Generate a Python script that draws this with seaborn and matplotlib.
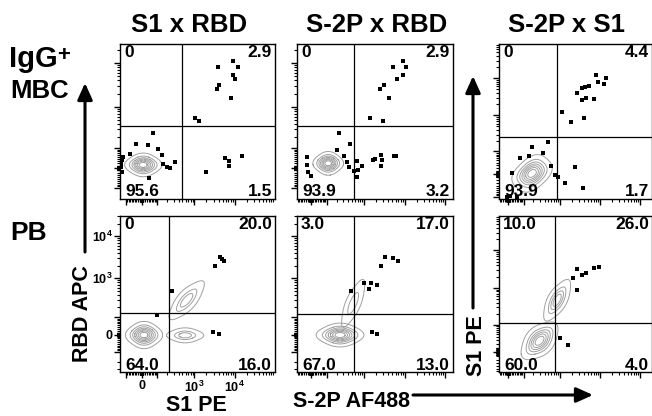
import numpy as np
import matplotlib
matplotlib.use("Agg")
import matplotlib.pyplot as plt
from matplotlib.patches import FancyArrowPatch
import seaborn as sns

# ---- data (display channel units, 0-100 on both axes) ----
col_titles = ["S1 x RBD", "S-2P x RBD", "S-2P x S1"]

# quadrant frequencies: UL, UR, LL, LR
quad_mbc = [["0", "2.9", "95.6", "1.5"], ["0", "2.9", "93.9", "3.2"], ["0", "4.4", "93.9", "1.7"]]
quad_pb = [["0", "20.0", "64.0", "16.0"], ["3.0", "17.0", "67.0", "13.0"], ["10.0", "26.0", "60.0", "4.0"]]

gate_x_mbc = [40.0, 36.5, 37.9]
gate_y_mbc = [47.1, 47.1, 40.0]
gate_x_pb = [31.6, 36.5, 36.6]
gate_y_pb = [37.8, 37.2, 31.4]

# single events drawn as dots
mbc_s1_rbd_x = [63.2, 72.9, 76.1, 72.9, 74.2, 63.9, 62.6, 71.6, 48.4, 51.0, 67.7, 70.3, 78.7, 70.3, 55.5,
                21.3, 10.3, 18.1, 24.5, 27.1, 35.5, 27.7, 30.3, 32.3, 6.5, 0.5, 1.3, 18.7, 1.0, 2.0, 0.8]
mbc_s1_rbd_y = [85.2, 89.0, 85.2, 80.0, 77.4, 73.5, 71.0, 65.2, 52.3, 50.3, 26.5, 24.5, 27.7, 21.3, 17.4,
                42.6, 35.5, 34.8, 32.3, 28.4, 23.9, 22.6, 20.6, 20.0, 29.0, 20.6, 17.4, 13.5, 25.0, 27.0, 23.0]
mbc_s2p_rbd_x = [67.9, 61.5, 69.9, 64.1, 67.9, 53.2, 55.8, 59.0, 46.8, 55.1, 48.7, 50.0, 53.8, 54.5, 53.8, 62.2,
                 63.5, 26.9, 34.0, 25.6, 30.1, 32.0, 33.3, 38.5, 39.1, 36.5, 38.5, 41.7, 6.4, 6.4, 7.1, 9.0]
mbc_s2p_rbd_y = [89.0, 85.2, 85.2, 77.4, 80.0, 71.0, 73.5, 65.2, 52.3, 50.3, 25.2, 25.8, 28.4, 25.2, 21.3, 27.7,
                 27.7, 42.6, 35.5, 31.6, 27.7, 23.9, 20.6, 24.5, 18.7, 18.1, 14.2, 21.3, 27.1, 21.9, 17.4, 14.8]
mbc_s2p_s1_x = [63.4, 69.9, 64.7, 68.6, 58.8, 56.2, 54.2, 51.0, 54.2, 56.9, 62.1, 55.6, 47.1, 41.2, 32.0,
                21.6, 28.8, 13.7, 19.6, 34.0, 38.6, 36.6, 43.1, 49.7, 54.9, 8.5, 5.2, 11.8, 7.0]
mbc_s2p_s1_y = [80.0, 78.1, 75.5, 74.2, 72.9, 72.3, 71.6, 68.4, 63.9, 65.2, 64.5, 52.3, 49.7, 56.1, 36.8,
                33.5, 29.7, 26.5, 27.7, 21.3, 14.2, 15.5, 10.3, 20.6, 7.1, 16.8, 1.5, 1.0, 2.0]
pb_s1_rbd_x = [61.3, 64.5, 65.8, 67.1, 33.5, 23.9, 60.0, 63.9]
pb_s1_rbd_y = [67.9, 73.7, 72.4, 71.2, 51.9, 36.5, 25.6, 24.4]
pb_s2p_rbd_x = [53.8, 56.4, 61.5, 64.7, 42.9, 46.2, 47.4, 51.3, 34.6, 48.1, 51.3]
pb_s2p_rbd_y = [67.9, 73.7, 73.1, 71.2, 57.1, 53.2, 57.1, 55.8, 51.9, 25.6, 24.4]
pb_s2p_s1_x = [51.0, 48.4, 54.2, 56.9, 62.1, 65.4, 51.0, 39.9, 45.1]
pb_s2p_s1_y = [66.0, 60.3, 62.2, 63.5, 66.7, 67.3, 52.6, 21.8, 17.3]

# population anchors for the density contours (centre + 4 arms)
pop_w = [4, 1, 1, 1, 1]
mbc_s1_rbd_main_x = [15.0, 9.5, 20.5, 15.0, 15.0]
mbc_s1_rbd_main_y = [22.0, 22.0, 22.0, 18.5, 25.5]
mbc_s2p_rbd_main_x = [20.0, 15.5, 24.5, 20.0, 20.0]
mbc_s2p_rbd_main_y = [23.0, 23.0, 23.0, 19.5, 26.5]
mbc_s2p_s1_main_x = [21.6, 15.6, 27.6, 20.6, 22.6]
mbc_s2p_s1_main_y = [16.5, 15.5, 17.5, 11.0, 22.0]
pb_s1_rbd_main_x = [15.5, 10.0, 21.0, 15.5, 15.5]
pb_s1_rbd_main_y = [23.7, 23.7, 23.7, 19.7, 27.7]
pb_s1_rbd_right_x = [42.0, 36.5, 47.5, 42.0, 42.0]
pb_s1_rbd_right_y = [23.5, 23.5, 23.5, 21.3, 25.7]
pb_s1_rbd_up_x = [43.0, 38.0, 48.0, 41.0, 45.0]
pb_s1_rbd_up_y = [46.0, 40.5, 51.5, 48.0, 44.0]
pb_s2p_rbd_main_x = [27.6, 20.6, 34.6, 27.6, 27.6]
pb_s2p_rbd_main_y = [23.7, 23.7, 23.7, 20.2, 27.2]
pb_s2p_rbd_up_x = [36.0, 33.0, 39.0, 34.0, 38.0]
pb_s2p_rbd_up_y = [44.0, 37.0, 51.0, 45.0, 43.0]
pb_s2p_s1_main_x = [26.5, 21.5, 31.5, 23.5, 29.5]
pb_s2p_s1_main_y = [20.0, 15.0, 25.0, 23.0, 17.0]
pb_s2p_s1_up_x = [38.0, 34.5, 41.5, 35.5, 40.5]
pb_s2p_s1_up_y = [46.0, 40.0, 52.0, 47.5, 44.5]

# biexponential-like axis parameters: (zero position, units per ln, linear width)
x_axis_par = [(14, 11.3, 99), (9, 11.3, 99), (6, 11.3, 99)]
y_axis_mbc = [(20, 12.3, 81), (20, 12.3, 81), (16, 10.4, 52)]
y_axis_pb = [(24, 11.7, 92), (24, 11.7, 92), (13, 10.4, 39)]

sns.set_style("ticks")
plt.rcParams.update({
    "font.family": ["Liberation Sans", "DejaVu Sans"],
    "font.weight": "bold",
    "text.color": "black",
    "xtick.color": "black",
    "ytick.color": "black",
    "axes.edgecolor": "black",
    "mathtext.fontset": "custom",
    "mathtext.rm": "Liberation Sans:bold",
    "mathtext.bf": "Liberation Sans:bold",
    "mathtext.it": "Liberation Sans:bold",
    "mathtext.default": "bf",
})

W, H = 652, 416
fig = plt.figure(figsize=(W / 100, H / 100), dpi=100)


def fx(px):
    return px / W


def fy(py):
    return 1 - py / H


def flow_ticks(zero, k, w):
    vals_major = [-100, 0, 100, 1000, 10000, 100000]
    vals_minor = []
    for d in [1, 10, 100, 1000, 10000]:
        for m in range(2, 10):
            vals_minor += [m * d, -m * d]
    vals_minor += [10, -10, 1, -1]
    pos = lambda v: zero + k * np.arcsinh(np.array(v, dtype=float) / w)
    maj = [(v, p) for v, p in zip(vals_major, pos(vals_major)) if 0 <= p <= 100]
    mnr = [p for p in pos(vals_minor) if 0 <= p <= 100]
    return maj, mnr


lefts = [120, 297, 499]
widths = [155, 156, 153]
tops = [44, 216]
heights = [155, 156]

dots = [
    [(mbc_s1_rbd_x, mbc_s1_rbd_y), (mbc_s2p_rbd_x, mbc_s2p_rbd_y), (mbc_s2p_s1_x, mbc_s2p_s1_y)],
    [(pb_s1_rbd_x, pb_s1_rbd_y), (pb_s2p_rbd_x, pb_s2p_rbd_y), (pb_s2p_s1_x, pb_s2p_s1_y)],
]
# (x, y, number of contour levels)
pops = [
    [[(mbc_s1_rbd_main_x, mbc_s1_rbd_main_y, 8)],
     [(mbc_s2p_rbd_main_x, mbc_s2p_rbd_main_y, 8)],
     [(mbc_s2p_s1_main_x, mbc_s2p_s1_main_y, 8)]],
    [[(pb_s1_rbd_main_x, pb_s1_rbd_main_y, 8), (pb_s1_rbd_right_x, pb_s1_rbd_right_y, 4),
      (pb_s1_rbd_up_x, pb_s1_rbd_up_y, 4)],
     [(pb_s2p_rbd_main_x, pb_s2p_rbd_main_y, 8), (pb_s2p_rbd_up_x, pb_s2p_rbd_up_y, 3)],
     [(pb_s2p_s1_main_x, pb_s2p_s1_main_y, 7), (pb_s2p_s1_up_x, pb_s2p_s1_up_y, 5)]],
]
quads = [quad_mbc, quad_pb]
gates = [(gate_x_mbc, gate_y_mbc), (gate_x_pb, gate_y_pb)]
y_pars = [y_axis_mbc, y_axis_pb]

for r in range(2):
    for c in range(3):
        ax = fig.add_axes([fx(lefts[c]), fy(tops[r] + heights[r]), widths[c] / W, heights[r] / H])
        for px, py, nlev in pops[r][c]:
            sns.kdeplot(x=px, y=py, weights=pop_w, ax=ax, levels=nlev, thresh=0.05, bw_adjust=1.4,
                        color="#a0a0a0", linewidths=0.7)
        dx, dy = dots[r][c]
        sns.scatterplot(x=dx, y=dy, ax=ax, marker="s", s=7, color="black", linewidth=0, zorder=3)
        ax.axvline(gates[r][0][c], color="black", lw=0.9)
        ax.axhline(gates[r][1][c], color="black", lw=0.9)
        ax.set_xlim(0, 100)
        ax.set_ylim(0, 100)
        ax.set_xlabel("")
        ax.set_ylabel("")

        xmaj, xmin = flow_ticks(*x_axis_par[c])
        ymaj, ymin = flow_ticks(*y_pars[r][c])
        ax.set_xticks([p for v, p in xmaj])
        ax.set_xticks(xmin, minor=True)
        ax.set_yticks([p for v, p in ymaj])
        ax.set_yticks(ymin, minor=True)
        if r == 1 and c == 0:
            lab = {0: "0", 1000: "$10^3$", 10000: "$10^4$"}
            ax.set_xticklabels([lab.get(v, "") for v, p in xmaj], fontsize=9, fontweight="bold")
            ax.set_yticklabels([lab.get(v, "") for v, p in ymaj], fontsize=9, fontweight="bold")
        else:
            ax.set_xticklabels([])
            ax.set_yticklabels([])
        ax.tick_params(which="major", length=4.5, width=1.0, direction="out", pad=1)
        ax.tick_params(which="minor", length=2.5, width=0.8, direction="out")
        for s in ax.spines.values():
            s.set_linewidth(1.0)
            s.set_color("black")

        ul, ur, ll, lr = quads[r][c]
        kw = dict(xycoords="axes fraction", textcoords="offset pixels", fontsize=12.5, fontweight="bold")
        ax.annotate(ul, (0, 1), (4, -1), ha="left", va="top", **kw)
        ax.annotate(ur, (1, 1), (-3, -1), ha="right", va="top", **kw)
        ax.annotate(ll, (0, 0), (5, 2.5), ha="left", va="baseline", **kw)
        ax.annotate(lr, (1, 0), (-3, 2.5), ha="right", va="baseline", **kw)

# column titles and row labels
big = dict(fontsize=18.5, fontweight="bold")
for cx, t in zip([189, 377, 567], col_titles):
    fig.text(fx(cx), fy(32), t, ha="center", va="baseline", **big)
fig.text(fx(9), fy(67), "IgG", ha="left", va="baseline", fontsize=21, fontweight="bold")
fig.text(fx(57.5), fy(61), "+", ha="left", va="baseline", fontsize=16, fontweight="bold")
fig.text(fx(10), fy(98), "MBC", ha="left", va="baseline", **big)
fig.text(fx(10), fy(240), "PB", ha="left", va="baseline", fontsize=19, fontweight="bold")

# axis names
axname = dict(fontsize=15.5, fontweight="bold")
fig.text(fx(88.5), fy(314), "RBD APC", rotation=90, rotation_mode="anchor", ha="center", va="baseline", **axname)
fig.text(fx(196), fy(411), "S1 PE", ha="center", va="baseline", **axname)
fig.text(fx(293), fy(407), "S-2P AF488", ha="left", va="baseline", **axname)
fig.text(fx(482), fy(346), "S1 PE", rotation=90, rotation_mode="anchor", ha="center", va="baseline", **axname)

# arrows
arrow_kw = dict(transform=fig.transFigure, arrowstyle="-|>,head_length=10,head_width=4.5",
                color="black", lw=2.2, shrinkA=0, shrinkB=0, mutation_scale=1)
fig.add_artist(FancyArrowPatch((fx(85), fy(252)), (fx(85), fy(83)), **arrow_kw))
fig.add_artist(FancyArrowPatch((fx(473), fy(308)), (fx(473), fy(76)), **arrow_kw))
fig.add_artist(FancyArrowPatch((fx(413), fy(395)), (fx(593), fy(395)), **arrow_kw))

fig.savefig("out.png", dpi=100)
